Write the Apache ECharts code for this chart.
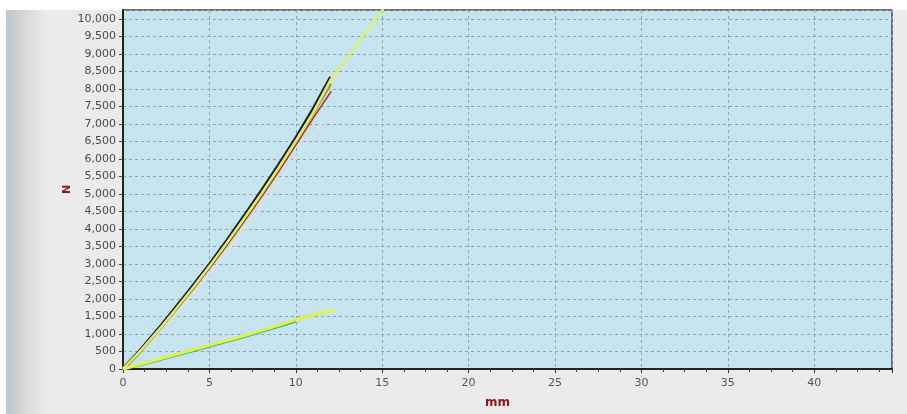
<!DOCTYPE html>
<html>
<head>
<meta charset="utf-8">
<script src="https://cdn.jsdelivr.net/npm/echarts@6/dist/echarts.min.js"></script>
<style>
html,body{margin:0;padding:0;background:#ebebeb;}
#c{width:907px;height:414px;}
</style>
</head>
<body>
<div id="c"></div>
<script>
// Steep specimens (mm -> N)
const steepX   = [0, 1, 2, 3, 4, 5, 6, 7, 8, 9, 10, 11, 12];
const blackN   = [0, 545, 1130, 1740, 2360, 3000, 3680, 4380, 5100, 5840, 6610, 7440, 8340];
const olive    = [0, 520, 1095, 1695, 2310, 2950, 3620, 4310, 5020, 5760, 6530, 7330, 8150];
const redX     = [0, 1, 2, 3, 4, 5, 6, 7, 8, 9, 10, 11, 12.05];
const redN     = [0, 505, 1060, 1640, 2240, 2870, 3520, 4200, 4900, 5630, 6390, 7160, 7930];
const grayX    = [0, 1, 2, 3, 4, 5, 6, 7, 8, 9, 10, 11, 12.1];
const grayN    = [0, 470, 990, 1540, 2110, 2700, 3320, 3970, 4640, 5330, 6050, 6700, 7360];
const yellowX  = [0, 1, 2, 3, 4, 5, 6, 7, 8, 9, 10, 11, 12, 13, 14, 15, 15.4];
const yellowN  = [0, 515, 1080, 1675, 2290, 2930, 3600, 4290, 5000, 5740, 6510, 7320, 8250, 8900, 9570, 10240, 10510];
// Shallow specimens
const shallowX = [0, 1, 2, 3, 4, 5, 6, 7, 8, 9, 10, 11, 12, 12.2];
const shallowY = [0, 135, 270, 405, 540, 675, 810, 950, 1095, 1245, 1405, 1545, 1665, 1690];
const cyanX    = [0, 1, 2, 3, 4, 5, 6, 7, 8, 9, 10];
const cyanN    = [0, 115, 245, 375, 505, 640, 775, 915, 1060, 1205, 1355];
const greenN   = [0, 122, 255, 388, 520, 655, 790, 930, 1075, 1222, 1375];

const pairs = (xs, ys) => xs.map((x, i) => [x, ys[i]]);

const chart = echarts.init(document.getElementById('c'));
const mk = (name, data, color, width, z) => ({
  name, type: 'line', data, showSymbol: false, symbol: 'none',
  lineStyle: { color, width }, z: z || 2, clip: true, animation: false
});

chart.setOption({
  animation: false,
  backgroundColor: '#ebebeb',
  graphic: [
    { type: 'rect', shape: { x: 0, y: 0, width: 907, height: 10 }, style: { fill: '#ffffff' }, z: -10, silent: true },
    { type: 'rect', shape: { x: 0, y: 0, width: 7, height: 414 }, style: { fill: '#ffffff' }, z: -10, silent: true },
    { type: 'rect', shape: { x: 6, y: 10, width: 1.5, height: 404 }, style: { fill: '#8fd3dc' }, z: -9, silent: true },
    { type: 'rect', shape: { x: 7.5, y: 10, width: 40, height: 404 },
      style: { fill: new echarts.graphic.LinearGradient(0, 0, 1, 0, [
        { offset: 0, color: '#c4c4c4' }, { offset: 0.5, color: '#dcdcdc' }, { offset: 1, color: '#ebebeb' }]) },
      z: -10, silent: true }
  ],
  grid: {
    left: 123, right: 15, top: 10, bottom: 44,
    show: true, backgroundColor: '#c6e4ef', borderColor: '#444', borderWidth: 1.5
  },
  xAxis: {
    type: 'value', min: 0, max: 44.5, interval: 5,
    name: 'mm', nameLocation: 'middle', nameGap: 28,
    nameTextStyle: { color: '#8b1a1a', fontWeight: 'bold', fontSize: 12, fontFamily: 'DejaVu Sans', padding: [0, 20, 0, 0] },
    axisLine: { show: true, onZero: false, lineStyle: { color: '#222', width: 2 } },
    axisTick: { show: true, length: 4, lineStyle: { color: '#333' } },
    minorTick: { show: true, splitNumber: 4, length: 3, lineStyle: { color: '#444' } },
    axisLabel: { color: '#555', fontSize: 11, fontFamily: 'DejaVu Sans', margin: 9, showMaxLabel: false },
    splitLine: { show: true, lineStyle: { color: '#93a4ad', type: [3, 3], width: 1 } }
  },
  yAxis: {
    type: 'value', min: 0, max: 10250, interval: 500,
    name: 'N', nameLocation: 'middle', nameGap: 50, nameRotate: 90, nameMoveOverlap: false,
    nameTextStyle: { color: '#8b1a1a', fontWeight: 'bold', fontSize: 11, fontFamily: 'DejaVu Sans' },
    axisLine: { show: true, onZero: false, lineStyle: { color: '#222', width: 2 } },
    axisTick: { show: true, length: 4, lineStyle: { color: '#444' } },
    axisLabel: { color: '#4a4a4a', fontSize: 11, fontFamily: 'DejaVu Sans', margin: 7, showMaxLabel: false,
      formatter: v => v.toLocaleString('en-US') },
    splitLine: { show: true, lineStyle: { color: '#93a4ad', type: [3, 3], width: 1 } }
  },
  series: [
    mk('gray', pairs(grayX, grayN), '#dfe4e0', 1.5, 2),
    mk('olive', pairs(steepX, olive), '#9a9a62', 4, 3),
    mk('red', pairs(redX, redN), '#b8322a', 1.5, 3),
    mk('black', pairs(steepX, blackN), '#1e1e14', 2.5, 4),
    mk('yellow', pairs(yellowX, yellowN), '#dcef6a', 2.5, 5),
    mk('cyan', pairs(cyanX, cyanN), '#2cc4c8', 2.5, 3),
    mk('green', pairs(cyanX, greenN), '#4e9e3a', 2, 4),
    mk('shallow', pairs(shallowX, shallowY), '#e3f046', 3, 5)
  ]
});
</script>
</body>
</html>
